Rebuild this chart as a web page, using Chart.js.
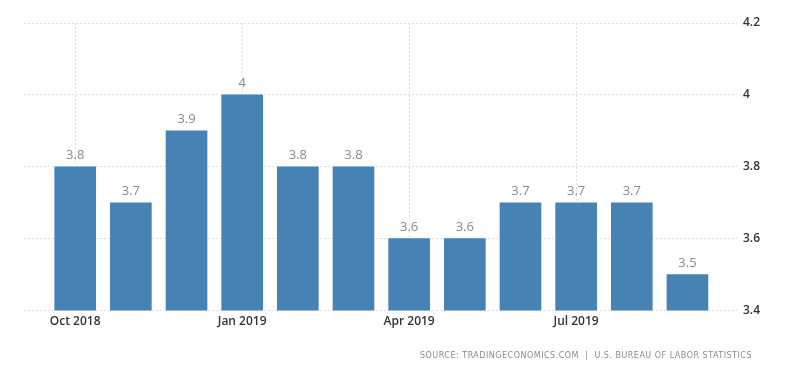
<!DOCTYPE html>
<html>
<head>
<meta charset="utf-8">
<script src="https://cdn.jsdelivr.net/npm/chart.js@4.4.0/dist/chart.umd.min.js"></script>
<style>
  html, body { margin: 0; padding: 0; background: #fff; }
  #wrap { width: 800px; height: 373px; position: relative; }
</style>
</head>
<body>
<div id="wrap"><canvas id="unemp"></canvas></div>
<script>
// monthly unemployment rate, Oct 2018 .. Sep 2019
const months = ['Oct 2018', 'Nov 2018', 'Dec 2018', 'Jan 2019', 'Feb 2019', 'Mar 2019',
  'Apr 2019', 'May 2019', 'Jun 2019', 'Jul 2019', 'Aug 2019', 'Sep 2019'];
const rates = [3.8, 3.7, 3.9, 4.0, 3.8, 3.8, 3.6, 3.6, 3.7, 3.7, 3.7, 3.5];
const xTickIdx = [0, 3, 6, 9];
const yTicks = [3.4, 3.6, 3.8, 4.0, 4.2];
const sourceText = 'SOURCE: TRADINGECONOMICS.COM  |  U.S. BUREAU OF LABOR STATISTICS';

const barColor = '#4682b4';
const gridColor = '#e0e0e0';

// value labels above bars
const valueLabels = {
  id: 'valueLabels',
  afterDatasetsDraw(chart) {
    const { ctx } = chart;
    const meta = chart.getDatasetMeta(0);
    ctx.save();
    ctx.font = '13px "Open Sans"';
    ctx.fillStyle = '#8a8a8a';
    ctx.textAlign = 'center';
    ctx.textBaseline = 'bottom';
    meta.data.forEach((bar, i) => {
      ctx.fillText(String(rates[i]), bar.x, bar.y - 5);
    });
    ctx.restore();
  }
};

// source line at the bottom right
const sourceLine = {
  id: 'sourceLine',
  afterDraw(chart) {
    const { ctx } = chart;
    ctx.save();
    ctx.font = '8px "DejaVu Sans"';
    ctx.letterSpacing = '0.5px';
    ctx.fillStyle = '#8a8a8a';
    ctx.textAlign = 'right';
    ctx.textBaseline = 'middle';
    ctx.fillText(sourceText, 752, 356);
    ctx.restore();
  }
};

const chart = new Chart(document.getElementById('unemp').getContext('2d'), {
  type: 'bar',
  data: {
    datasets: [{
      data: rates.map((v, i) => ({ x: i, y: v })),
      backgroundColor: barColor,
      borderWidth: 0,
      barThickness: 41
    }]
  },
  options: {
    responsive: true,
    maintainAspectRatio: false,
    animation: false,
    layout: { padding: { left: 24, top: 23, right: 34, bottom: 40 } },
    plugins: { legend: { display: false }, tooltip: { enabled: false } },
    scales: {
      x: {
        type: 'linear',
        offset: false,
        min: -0.92,
        max: 11.89,
        afterBuildTicks(axis) {
          axis.ticks = xTickIdx.map(v => ({ value: v }));
        },
        ticks: {
          callback: (v) => months[v],
          color: '#333',
          font: { family: 'Open Sans', size: 12, weight: '600' },
          maxRotation: 0,
          autoSkip: false,
          padding: 4
        },
        grid: {
          offset: false,
          color: gridColor,
          drawTicks: false
        },
        border: { display: false, dash: [2, 2] }
      },
      y: {
        position: 'right',
        min: 3.4,
        max: 4.2,
        afterBuildTicks(axis) {
          axis.ticks = yTicks.map(v => ({ value: v }));
        },
        ticks: {
          callback: (v) => String(Math.round(v * 10) / 10),
          color: '#333',
          font: { family: 'Open Sans', size: 12, weight: '600' },
          padding: 6
        },
        grid: {
          color: gridColor,
          drawTicks: false
        },
        border: { display: false, dash: [2, 2] }
      }
    }
  },
  plugins: [valueLabels, sourceLine]
});
</script>
</body>
</html>
